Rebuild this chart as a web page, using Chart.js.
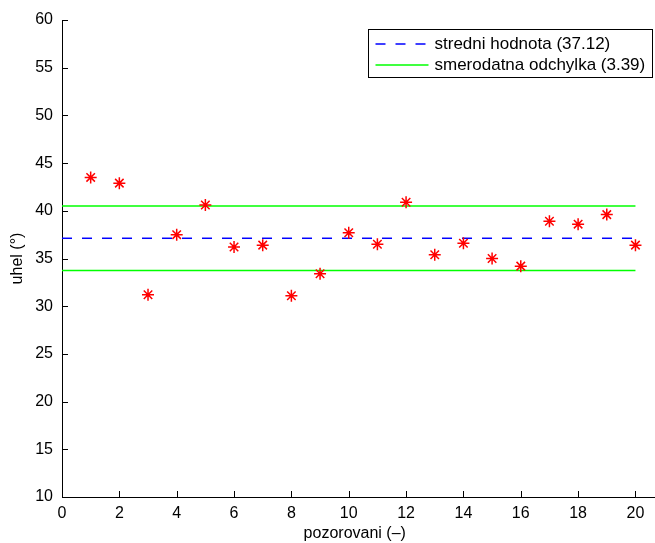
<!DOCTYPE html>
<html>
<head>
<meta charset="utf-8">
<script src="https://cdn.jsdelivr.net/npm/chart.js@4"></script>
<style>
  html, body { margin: 0; padding: 0; background: #fff; }
  #wrap { width: 655px; height: 543px; }
</style>
</head>
<body>
<div id="wrap"><canvas id="graf" width="655" height="543"></canvas></div>
<script>
// pozorovani a namerene uhly
var pozorovani = [1,2,3,4,5,6,7,8,9,10,11,12,13,14,15,16,17,18,19,20];
var uhly = [43.5,42.9,31.2,37.5,40.6,36.2,36.4,31.1,33.4,37.7,36.5,40.9,35.4,36.6,35.0,34.2,38.9,38.6,39.6,36.4];
var stredni = 37.12;
var odchylka = 3.39;
var rozsahX = [0, 20];
var xTicks = [0,2,4,6,8,10,12,14,16,18,20];
var yTicks = [10,15,20,25,30,35,40,45,50,55,60];

var FONT = '"Liberation Sans", Arial, sans-serif';

// tiky dovnitr grafu
var vnitrniTiky = {
  id: 'vnitrniTiky',
  afterDraw: function(chart) {
    var c = chart.ctx, a = chart.chartArea;
    var sx = chart.scales.x, sy = chart.scales.y;
    c.save();
    c.strokeStyle = '#000';
    c.lineWidth = 1;
    c.beginPath();
    xTicks.forEach(function(t) {
      var px = Math.round(sx.getPixelForValue(t)) + 0.5;
      c.moveTo(px, a.bottom); c.lineTo(px, a.bottom - 6);
    });
    yTicks.forEach(function(t) {
      var py = Math.round(sy.getPixelForValue(t)) + 0.5;
      c.moveTo(a.left, py); c.lineTo(a.left + 6, py);
    });
    c.stroke();
    // osa x pokracuje az k okraji obrazku
    c.beginPath();
    c.moveTo(a.right, Math.round(a.bottom) + 0.5);
    c.lineTo(chart.width, Math.round(a.bottom) + 0.5);
    c.stroke();
    c.restore();
  }
};

// legenda s ramecekem
var legenda = {
  id: 'legenda',
  afterDraw: function(chart) {
    var c = chart.ctx;
    var x0 = 368.5, y0 = 29.5, w = 284, h = 48;
    c.save();
    c.fillStyle = '#fff';
    c.fillRect(x0, y0, w, h);
    c.strokeStyle = '#000';
    c.lineWidth = 1;
    c.strokeRect(x0, y0, w, h);
    var polozky = [chart.data.datasets[1], chart.data.datasets[2]];
    polozky.forEach(function(ds, i) {
      var y = Math.round(y0 + 14 + i * 21);
      c.beginPath();
      c.strokeStyle = ds.borderColor;
      c.lineWidth = 1.5;
      c.setLineDash(ds.borderDash || []);
      c.moveTo(x0 + 7, y); c.lineTo(x0 + 60, y);
      c.stroke();
      c.setLineDash([]);
      c.fillStyle = '#000';
      c.font = '17px ' + FONT;
      c.textBaseline = 'middle';
      c.fillText(ds.label, x0 + 66, y);
    });
    c.restore();
  }
};

new Chart(document.getElementById('graf'), {
  type: 'scatter',
  data: {
    datasets: [{
      label: 'uhel',
      data: pozorovani.map(function(p, i) { return {x: p, y: uhly[i]}; }),
      pointStyle: 'star',
      pointRadius: 6,
      pointBorderColor: '#ff0000',
      pointBackgroundColor: '#ff0000',
      pointBorderWidth: 1.5,
      showLine: false
    }, {
      label: 'stredni hodnota (' + stredni.toFixed(2) + ')',
      type: 'line',
      data: rozsahX.map(function(x) { return {x: x, y: stredni}; }),
      borderColor: '#0000ff',
      borderWidth: 1.5,
      borderDash: [10, 10],
      pointRadius: 0,
      fill: false
    }, {
      label: 'smerodatna odchylka (' + odchylka.toFixed(2) + ')',
      type: 'line',
      data: rozsahX.map(function(x) { return {x: x, y: stredni + odchylka}; }),
      borderColor: '#00ff00',
      borderWidth: 1.5,
      pointRadius: 0,
      fill: false
    }, {
      label: 'dolni',
      type: 'line',
      data: rozsahX.map(function(x) { return {x: x, y: stredni - odchylka}; }),
      borderColor: '#00ff00',
      borderWidth: 1.5,
      pointRadius: 0,
      fill: false
    }]
  },
  options: {
    responsive: false,
    animation: false,
    layout: { padding: { top: 20, right: 0, left: 0, bottom: 0 } },
    plugins: {
      legend: { display: false },
      tooltip: { enabled: false }
    },
    scales: {
      x: {
        type: 'linear',
        min: 0,
        max: 20.42,
        afterBuildTicks: function(s) { s.ticks = xTicks.map(function(v) { return {value: v}; }); },
        afterFit: function(s) { s.height = 46; },
        grid: { display: true, drawOnChartArea: false, drawTicks: false },
        border: { display: true, color: '#000', width: 1 },
        ticks: { color: '#000', font: { family: FONT, size: 16 }, padding: 7, maxRotation: 0 },
        title: { display: true, text: 'pozorovani (–)', color: '#000', font: { family: FONT, size: 16 }, padding: { top: 0, bottom: 0 } }
      },
      y: {
        min: 10,
        max: 60,
        afterBuildTicks: function(s) { s.ticks = yTicks.map(function(v) { return {value: v}; }); },
        afterFit: function(s) { s.width = 62; },
        grid: { display: true, drawOnChartArea: false, drawTicks: false },
        border: { display: true, color: '#000', width: 1 },
        ticks: { color: '#000', font: { family: FONT, size: 16 }, padding: 9 },
        title: { display: true, text: 'uhel (°)', color: '#000', font: { family: FONT, size: 16 }, padding: { top: 8, bottom: 2 } }
      }
    }
  },
  plugins: [vnitrniTiky, legenda]
});
</script>
</body>
</html>
